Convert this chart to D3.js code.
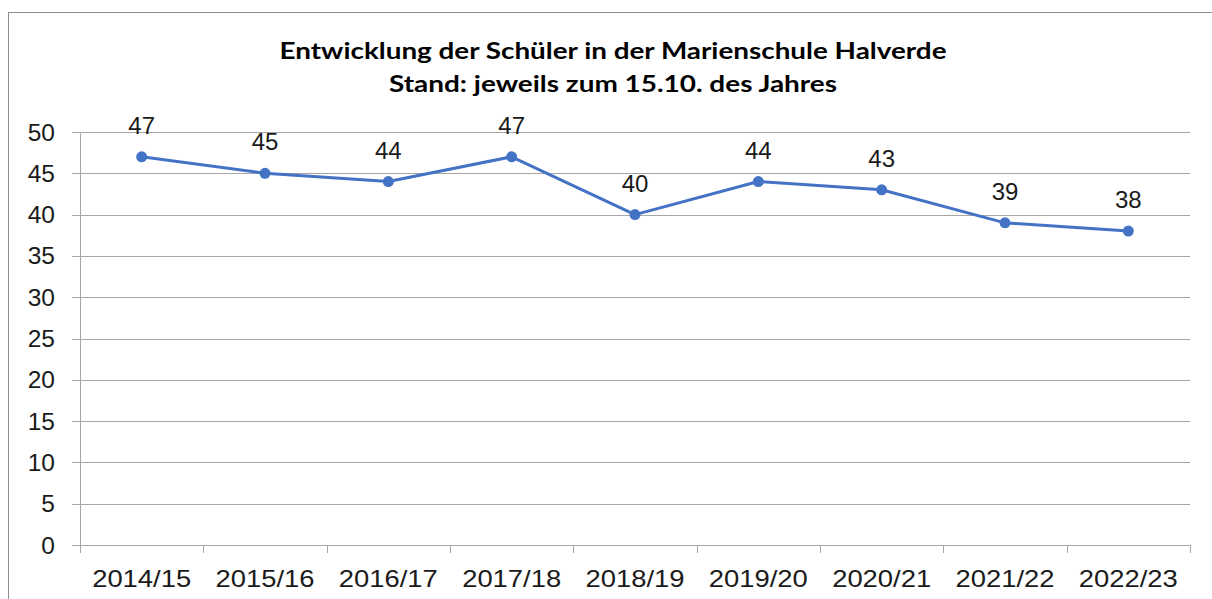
<!DOCTYPE html>
<html>
<head>
<meta charset="utf-8">
<script src="https://cdn.jsdelivr.net/npm/d3@7"></script>
<style>
  body { margin: 0; background: #fff; }
  svg { display: block; }
</style>
</head>
<body>
<svg id="chart"></svg>
<script>
var categories = ["2014/15", "2015/16", "2016/17", "2017/18", "2018/19", "2019/20", "2020/21", "2021/22", "2022/23"]
var values = [47, 45, 44, 47, 40, 44, 43, 39, 38]
var yTicks = [0, 5, 10, 15, 20, 25, 30, 35, 40, 45, 50]
var titleLines = ["Entwicklung der Schüler in der Marienschule Halverde", "Stand: jeweils zum 15.10. des Jahres"]

var dimensions = {
    width: 1212,
    height: 599,
    margin: { top: 132, right: 22, bottom: 54, left: 80 }
}

var svg = d3.select("#chart")
            .attr("width", dimensions.width)
            .attr("height", dimensions.height)

// chart border
svg.append("rect")
   .attr("x", 8.5)
   .attr("y", 12.5)
   .attr("width", 1300)
   .attr("height", 700)
   .style("fill", "none")
   .style("stroke", "#8c8c8c")
   .style("stroke-width", 1)

var plotRight = dimensions.width - dimensions.margin.right
var plotBottom = dimensions.height - dimensions.margin.bottom

var xScale = d3.scaleBand()
               .domain(categories)
               .range([dimensions.margin.left, plotRight])

var yScale = d3.scaleLinear()
               .domain([0, 50])
               .range([plotBottom, dimensions.margin.top])

var textColor = "#1a1a1a"
var labelFont = "Liberation Sans, Arial, sans-serif"

// gridlines
svg.append("g")
   .selectAll("line")
   .data(yTicks)
   .enter()
   .append("line")
   .attr("x1", dimensions.margin.left - 8)
   .attr("x2", plotRight)
   .attr("y1", d => Math.round(yScale(d)) + 0.5)
   .attr("y2", d => Math.round(yScale(d)) + 0.5)
   .style("stroke", "#a6a6a6")
   .style("stroke-width", 1)

// y axis line
svg.append("line")
   .attr("x1", dimensions.margin.left + 0.5)
   .attr("x2", dimensions.margin.left + 0.5)
   .attr("y1", yScale(50))
   .attr("y2", plotBottom)
   .style("stroke", "#a6a6a6")

// y labels
svg.append("g")
   .selectAll("text")
   .data(yTicks)
   .enter()
   .append("text")
   .attr("x", dimensions.margin.left - 25)
   .attr("y", d => yScale(d))
   .attr("dy", "0.35em")
   .attr("text-anchor", "end")
   .style("font-family", labelFont)
   .style("font-size", "24.5px")
   .style("fill", textColor)
   .text(d => d)

// x category ticks
var xTickPos = categories.map(c => xScale(c)).concat([plotRight])
svg.append("g")
   .selectAll("line")
   .data(xTickPos)
   .enter()
   .append("line")
   .attr("x1", d => Math.round(d) + 0.5)
   .attr("x2", d => Math.round(d) + 0.5)
   .attr("y1", plotBottom)
   .attr("y2", plotBottom + 8)
   .style("stroke", "#a6a6a6")

// x labels (reference glyphs are wider, stretch to width)
svg.append("g")
   .selectAll("text")
   .data(categories)
   .enter()
   .append("text")
   .attr("x", d => xScale(d) + xScale.bandwidth() / 2)
   .attr("y", plotBottom + 42)
   .attr("text-anchor", "middle")
   .attr("textLength", 99)
   .attr("lengthAdjust", "spacingAndGlyphs")
   .style("font-family", labelFont)
   .style("font-size", "24.5px")
   .style("fill", textColor)
   .text(d => d)

// line
var line = d3.line()
             .x((d, i) => xScale(categories[i]) + xScale.bandwidth() / 2)
             .y(d => yScale(d))

svg.append("path")
   .datum(values)
   .attr("d", line)
   .style("fill", "none")
   .style("stroke", "#4472c4")
   .style("stroke-width", 3)
   .style("stroke-linejoin", "round")

svg.append("g")
   .selectAll("circle")
   .data(values)
   .enter()
   .append("circle")
   .attr("cx", (d, i) => xScale(categories[i]) + xScale.bandwidth() / 2)
   .attr("cy", d => yScale(d))
   .attr("r", 5.5)
   .style("fill", "#4472c4")

// data labels
svg.append("g")
   .selectAll("text")
   .data(values)
   .enter()
   .append("text")
   .attr("x", (d, i) => xScale(categories[i]) + xScale.bandwidth() / 2)
   .attr("y", d => yScale(d) - 23)
   .attr("text-anchor", "middle")
   .style("font-family", labelFont)
   .style("font-size", "24px")
   .style("fill", textColor)
   .text(d => d)

// title
var titleWidths = [667, 448]
svg.append("g")
   .selectAll("text")
   .data(titleLines)
   .enter()
   .append("text")
   .attr("x", 613)
   .attr("y", (d, i) => 59 + i * 33)
   .attr("text-anchor", "middle")
   .attr("textLength", (d, i) => titleWidths[i])
   .attr("lengthAdjust", "spacingAndGlyphs")
   .style("font-family", "Lato, sans-serif")
   .style("font-weight", "bold")
   .style("font-size", "23px")
   .style("fill", "#000")
   .text(d => d)
</script>
</body>
</html>
